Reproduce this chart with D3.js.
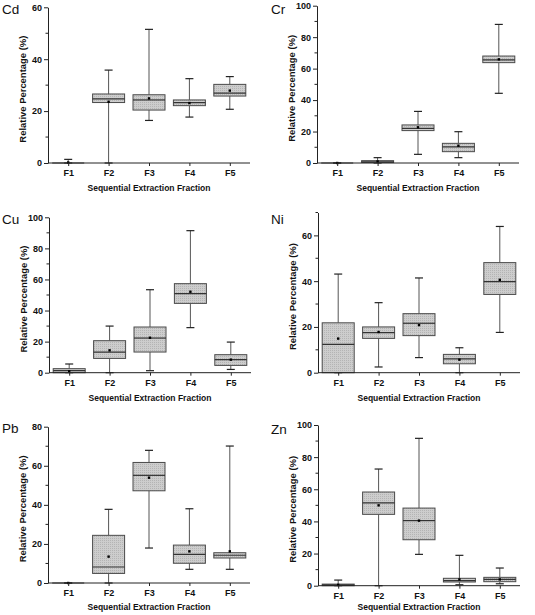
<!DOCTYPE html>
<html><head><meta charset="utf-8">
<script src="https://cdn.jsdelivr.net/npm/d3@7"></script>
<style>body{margin:0;background:#fff}svg{display:block}</style>
</head><body>
<script>
// Categories
const fractions = ["F1","F2","F3","F4","F5"];
// Each row: [min, q1, median, q3, max, mean] per fraction
const cdStats = [[0,0,0,0,1.4,0.2],[0,23.3,24.7,26.6,35.8,23.6],[16.4,20.4,24.3,26.3,51.5,24.9],[17.7,22.1,23.3,24.3,32.5,23.1],[20.7,25.8,26.9,30.3,33.3,27.9]];
const crStats = [[0,0,0,0,0,0],[0,0.3,0.8,1.5,3.4,1.0],[5.5,20.6,22.0,24.2,32.8,22.7],[3.4,7.2,10.2,12.5,19.9,11.0],[44.3,63.8,65.5,68.0,88.1,65.9]];
const cuStats = [[0,0,1.3,2.6,5.6,0.9],[0,9.2,13.3,20.6,30.0,14.4],[1.3,13.3,22.3,29.4,53.4,22.5],[29.0,44.6,50.9,57.3,91.4,52.1],[2.1,4.7,8.4,11.6,19.7,8.4]];
const niStats = [[0,0,12.4,21.8,43.1,14.9],[2.5,15.0,17.5,20.0,30.6,17.8],[6.6,16.2,21.6,25.8,41.4,20.8],[0,3.9,6.0,8.0,10.9,5.7],[17.6,34.2,39.8,48.1,63.9,40.6]];
const pbStats = [[0,0,0,0,0,0],[0,4.9,8.2,24.4,37.7,13.5],[17.9,47.2,55.1,61.7,67.9,53.9],[7.0,10.1,14.7,19.4,38.0,16.2],[7.0,12.8,14.2,15.5,70.1,16.2]];
const znStats = [[0,0,0.5,1.0,3.5,0.5],[0,44.4,51.5,58.3,72.6,50.0],[19.5,28.6,40.5,48.3,91.7,40.5],[0.6,2.3,3.1,4.6,18.9,3.9],[1.2,2.5,3.9,5.2,11.0,3.9]];
const elements = ["Cd","Cr","Cu","Ni","Pb","Zn"];
const yMaxes = [60,100,100,70,80,100];
const yLabelTitle = "Relative Percentage (%)";
const xLabelTitle = "Sequential Extraction Fraction";

const allStats = [cdStats,crStats,cuStats,niStats,pbStats,znStats];
// layout (pixel geometry)
const layout = [
  {ax:48, top:7.3, bottom:163, tx:2, ty:14, xt:28},
  {ax:317, top:5.7, bottom:163, tx:271, ty:14, xt:28},
  {ax:49, top:217.3, bottom:372.7, tx:2, ty:224, xt:28},
  {ax:318, top:212.5, bottom:372.7, tx:271, ty:224, xt:28},
  {ax:48, top:426.7, bottom:583, tx:2, ty:433, xt:27},
  {ax:318, top:425, bottom:585.7, tx:271, ty:434, xt:24.5}
];

const svg = d3.select("body").append("svg").attr("width",535).attr("height",615);
const defs = svg.append("defs");
const pat = defs.append("pattern").attr("id","stip").attr("patternUnits","userSpaceOnUse").attr("width",2).attr("height",2);
pat.append("rect").attr("width",2).attr("height",2).attr("fill","#cdcdcd");
pat.append("rect").attr("width",1).attr("height",1).attr("fill","#b4b4b4");

const FONT = "Liberation Sans, Arial, sans-serif";

elements.forEach((el,i)=>{
  const L = layout[i];
  const stats = allStats[i];
  const g = svg.append("g");
  const x = d3.scalePoint().domain(fractions).range([L.ax, L.ax+202]).padding(0.5);
  const y = d3.scaleLinear().domain([0,yMaxes[i]]).range([L.bottom, L.top]);
  const bw = 32, cap = 8;

  fractions.forEach((f,j)=>{
    const [mn,q1,md,q3,mx,mean] = stats[j];
    const cx = x(f);
    const bg = g.append("g");
    bg.append("line").attr("x1",cx).attr("x2",cx).attr("y1",y(mx)).attr("y2",y(q3)).attr("stroke","#555").attr("stroke-width",1);
    bg.append("line").attr("x1",cx).attr("x2",cx).attr("y1",y(q1)).attr("y2",y(mn)).attr("stroke","#555").attr("stroke-width",1);
    bg.append("line").attr("x1",cx-cap/2).attr("x2",cx+cap/2).attr("y1",y(mx)).attr("y2",y(mx)).attr("stroke","#222").attr("stroke-width",1.2);
    bg.append("line").attr("x1",cx-cap/2).attr("x2",cx+cap/2).attr("y1",y(mn)).attr("y2",y(mn)).attr("stroke","#222").attr("stroke-width",1.2);
    bg.append("rect").attr("x",cx-bw/2).attr("y",y(q3)).attr("width",bw).attr("height",Math.max(0,y(q1)-y(q3)))
      .attr("fill","url(#stip)").attr("stroke","#4a4a4a").attr("stroke-width",1);
    bg.append("line").attr("x1",cx-bw/2).attr("x2",cx+bw/2).attr("y1",y(md)).attr("y2",y(md)).attr("stroke","#333").attr("stroke-width",1.2);
    bg.append("rect").attr("x",cx-1.2).attr("y",y(mean)-1.2).attr("width",2.4).attr("height",2.4).attr("fill","#000");
  });

  const majors = d3.range(0, yMaxes[i]+0.001, 20);
  const minors = d3.range(10, yMaxes[i]+0.001, 20);
  const yAxis = d3.axisLeft(y).tickValues(majors).tickSize(4).tickPadding(2).tickSizeOuter(0);
  const ya = g.append("g").attr("transform",`translate(${L.ax},0)`).call(yAxis);
  ya.selectAll("line").attr("stroke","#222");
  ya.select(".domain").attr("stroke","#222");
  ya.selectAll("text").attr("font-family",FONT).attr("font-size","9px").attr("font-weight","bold").attr("fill","#111");
  ya.selectAll(".minor").data(minors).enter().append("line").attr("class","minor")
    .attr("x1",-2.5).attr("x2",0).attr("y1",d=>y(d)).attr("y2",d=>y(d)).attr("stroke","#222");

  const xAxis = d3.axisBottom(x).tickSize(3).tickPadding(4).tickSizeOuter(0);
  const xa = g.append("g").attr("transform",`translate(0,${L.bottom})`).call(xAxis);
  xa.select(".domain").attr("d",`M${L.ax},0H${L.ax+202}`).attr("stroke","#222");
  xa.selectAll("line").attr("stroke","#222");
  xa.selectAll("text").attr("font-family",FONT).attr("font-size","9px").attr("font-weight","bold").attr("fill","#111");

  g.append("text").attr("x",L.ax+101).attr("y",L.bottom+L.xt).attr("text-anchor","middle")
    .attr("font-family",FONT).attr("font-size","9.3px").attr("fill","#111").attr("font-weight","bold").attr("textLength",123).attr("lengthAdjust","spacingAndGlyphs").text(xLabelTitle);
  const cy = (L.top+L.bottom)/2 + 4;
  g.append("text").attr("transform",`translate(${L.ax-22},${cy}) rotate(-90)`).attr("text-anchor","middle")
    .attr("font-family",FONT).attr("font-size","9.3px").attr("font-weight","bold").attr("fill","#111")
    .attr("textLength",107).attr("lengthAdjust","spacingAndGlyphs").text(yLabelTitle);
  g.append("text").attr("x",L.tx).attr("y",L.ty).attr("font-family",FONT).attr("font-size","13.5px").attr("fill","#111").text(el);
});
</script>
</body></html>
